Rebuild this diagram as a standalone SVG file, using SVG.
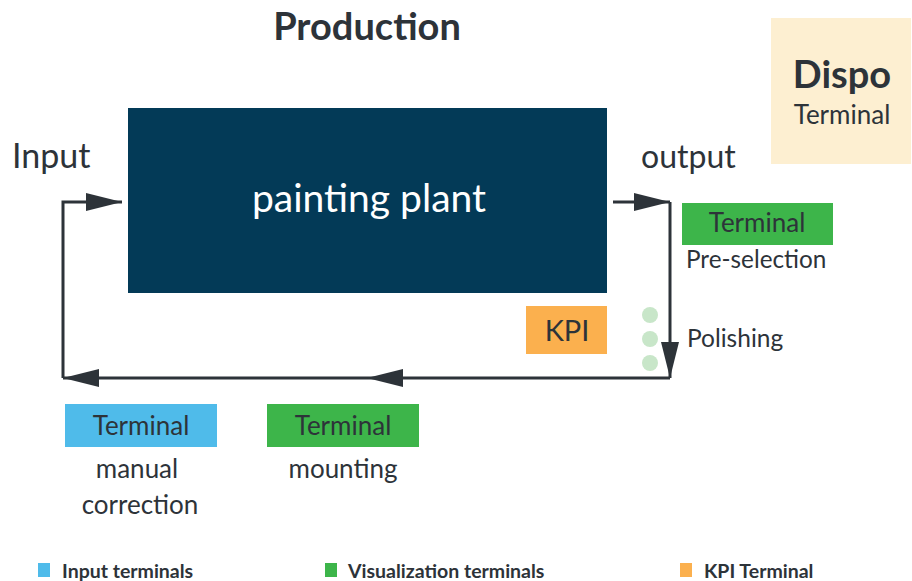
<svg xmlns="http://www.w3.org/2000/svg" width="912" height="581" viewBox="0 0 912 581">
<defs>
<style>
text{font-family:Lato,"Open Sans","Liberation Sans",sans-serif;fill:#2d3339}
.term{font-size:26px;text-anchor:middle}
.leg{font-size:19.5px;font-weight:bold}
.conn{stroke:#2d3339;stroke-width:3;fill:none}
</style>
<marker id="ah" viewBox="0 0 36 20" refX="36" refY="10" markerWidth="36" markerHeight="20" markerUnits="userSpaceOnUse" orient="auto">
<path d="M0,1 L36,10 L0,19 Z" fill="#2d3339"/>
</marker>
</defs>
<rect width="912" height="581" fill="#ffffff"/>
<text x="367" y="40" text-anchor="middle" font-size="38" font-weight="bold">Production</text>

<g id="dispo">
<rect x="771" y="18" width="140" height="146" fill="#fdefd1"/>
<text x="842" y="88" text-anchor="middle" font-size="38" font-weight="bold">Dispo</text>
<text x="842" y="124" text-anchor="middle" font-size="26">Terminal</text>
</g>

<g id="painting-plant">
<rect x="128" y="108" width="479" height="185" fill="#033a57"/>
<text x="369" y="212" text-anchor="middle" font-size="39" style="fill:#ffffff">painting plant</text>
</g>

<text x="12" y="168" font-size="34">Input</text>
<text x="641" y="168" font-size="32">output</text>

<g id="connectors">
<path class="conn" d="M63,378 L63,202 L122,202" marker-end="url(#ah)"/>
<path class="conn" d="M613,202 L670,202"  marker-end="url(#ah)"/>
<path class="conn" d="M670,202 L670,378" marker-end="url(#ah)"/>
<path class="conn" d="M670,378 L367,378" marker-end="url(#ah)"/>
<path class="conn" d="M367,378 L63,378" marker-end="url(#ah)"/>
</g>

<g id="terminal-preselection">
<rect x="682" y="203" width="151" height="42" fill="#3db54a"/>
<text class="term" x="757" y="232">Terminal</text>
<text x="686" y="268" font-size="24.3">Pre-selection</text>
</g>

<g id="kpi">
<rect x="526" y="306" width="81" height="48" fill="#fbb04e"/>
<text x="567" y="341" text-anchor="middle" font-size="29">KPI</text>
</g>

<g id="polishing">
<circle cx="650" cy="315" r="8" fill="#c8e6c9"/>
<circle cx="650" cy="339" r="8" fill="#c8e6c9"/>
<circle cx="650" cy="363" r="8" fill="#c8e6c9"/>
<text x="687" y="347" font-size="24.5">Polishing</text>
</g>

<g id="terminal-manual-correction">
<rect x="65" y="404" width="152" height="43" fill="#4fbbea"/>
<text class="term" x="141" y="435">Terminal</text>
<text class="term" x="137" y="478">manual</text>
<text class="term" x="140" y="514">correction</text>
</g>

<g id="terminal-mounting">
<rect x="267" y="404" width="152" height="43" fill="#3db54a"/>
<text class="term" x="343" y="435">Terminal</text>
<text class="term" x="343" y="478">mounting</text>
</g>

<g id="legend">
<rect x="38" y="563" width="12" height="14" fill="#4fbbea"/>
<text class="leg" x="62" y="578">Input terminals</text>
<rect x="325" y="563" width="12" height="14" fill="#3db54a"/>
<text class="leg" x="348" y="578">Visualization terminals</text>
<rect x="680" y="563" width="12" height="14" fill="#fbb04e"/>
<text class="leg" x="704" y="578">KPI Terminal</text>
</g>
</svg>
